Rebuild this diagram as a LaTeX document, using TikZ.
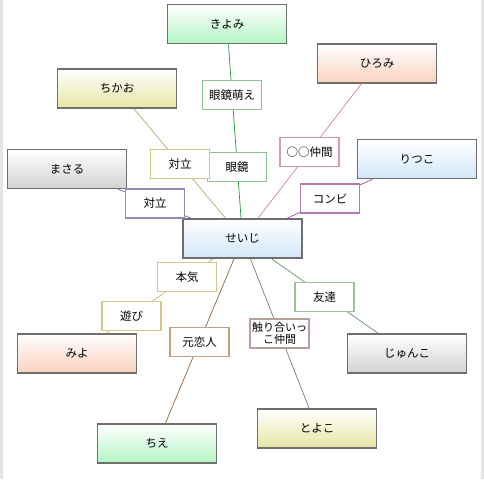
\documentclass[tikz,border=0pt]{standalone}
\usepackage{fontspec}
\setmainfont{Noto Sans CJK JP}
\usepackage{xcolor}
\usetikzlibrary{positioning}
\definecolor{boxGray}{HTML}{6E6E6E}
\definecolor{fillGreen}{HTML}{B4F5C3}
\definecolor{fillPeach}{HTML}{FAD2BE}
\definecolor{fillYellow}{HTML}{E6E6A5}
\definecolor{fillGray}{HTML}{D2D2D2}
\definecolor{fillBlue}{HTML}{D2E6FA}
\definecolor{lnKiyomi}{HTML}{1E9632}
\definecolor{bdKiyomi}{HTML}{8CC38C}
\definecolor{lnChikao}{HTML}{B4AA6E}
\definecolor{bdChikao}{HTML}{CDC882}
\definecolor{lnMasaru}{HTML}{6E64A0}
\definecolor{bdMasaru}{HTML}{8C8CB9}
\definecolor{lnHiromi}{HTML}{D2828C}
\definecolor{bdHiromi}{HTML}{DC9BA5}
\definecolor{lnRitsuko}{HTML}{A046A5}
\definecolor{bdRitsuko}{HTML}{B478B9}
\definecolor{lnMiyo}{HTML}{BEB46E}
\definecolor{bdMiyo}{HTML}{D2C88C}
\definecolor{lnChie}{HTML}{8C643C}
\definecolor{bdChie}{HTML}{BEA082}
\definecolor{lnJunko}{HTML}{649664}
\definecolor{bdJunko}{HTML}{9BC39B}
\definecolor{lnToyoko}{HTML}{8C7864}
\definecolor{bdToyoko}{HTML}{B4A096}

\begin{document}
\begin{tikzpicture}[x=1pt, y=-1pt, font=\fontsize{11.5}{12}\selectfont,
  person/.style={draw=boxGray, line width=1.6pt, minimum width=119pt, minimum height=39pt, top color=white, bottom color=#1},
  rel/.style={draw=#1, line width=1.5pt, fill=white, minimum width=59pt, minimum height=29pt, inner sep=1pt, align=center},
  link/.style={draw=#1, line width=0.7pt}]
\useasboundingbox (0,0) rectangle (484,479);
\fill[gray!20] (0,0) rectangle (2.5,479);
\fill[gray!20] (481,0) rectangle (484,479);
% people
\node[person=fillBlue] (seiji) at (242.5,238.5) {せいじ};
\node[person=fillGreen] (kiyomi) at (227,24) {きよみ};
\node[person=fillPeach] (hiromi) at (377,63.5) {ひろみ};
\node[person=fillYellow] (chikao) at (117,88.5) {ちかお};
\node[person=fillGray] (masaru) at (67,169) {まさる};
\node[person=fillBlue] (ritsuko) at (417,159) {りつこ};
\node[person=fillPeach] (miyo) at (77,353.5) {みよ};
\node[person=fillGreen] (chie) at (157,443.5) {ちえ};
\node[person=fillGray] (junko) at (407,353.5) {じゅんこ};
\node[person=fillYellow] (toyoko) at (317,428.5) {とよこ};
% links
\draw[link=lnKiyomi] (seiji) -- (kiyomi);
\draw[link=lnChikao] (seiji) -- (chikao);
\draw[link=lnMasaru] (seiji) -- (masaru);
\draw[link=lnHiromi] (seiji) -- (hiromi);
\draw[link=lnRitsuko] (seiji) -- (ritsuko);
\draw[link=lnMiyo] (seiji) -- (miyo);
\draw[link=lnChie] (seiji) -- (chie);
\draw[link=lnJunko] (seiji) -- (junko);
\draw[link=lnToyoko] (seiji) -- (toyoko);
% relation labels
\node[rel=bdKiyomi] (moe) at (232,95) {眼鏡萌え};
\node[rel=bdKiyomi] (megane) at (237,167) {眼鏡};
\node[rel=bdChikao] (tairitsuA) at (180,164) {対立};
\node[rel=bdMasaru] (tairitsuB) at (155,203.5) {対立};
\node[rel=bdHiromi] (nakama) at (309.5,152) {○○仲間};
\node[rel=bdRitsuko] (konbi) at (330,198.5) {コンビ};
\node[rel=bdMiyo] (honki) at (187,277) {本気};
\node[rel=bdMiyo] (asobi) at (131.5,316) {遊び};
\node[rel=bdChie] (motokoi) at (199.5,342) {元恋人};
\node[rel=bdJunko] (tomodachi) at (324.5,297) {友達};
\node[rel=bdToyoko, font=\fontsize{11}{12}\selectfont] (sawari) at (279.5,333.5) {触り合いっ\\こ仲間};
\end{tikzpicture}
\end{document}
